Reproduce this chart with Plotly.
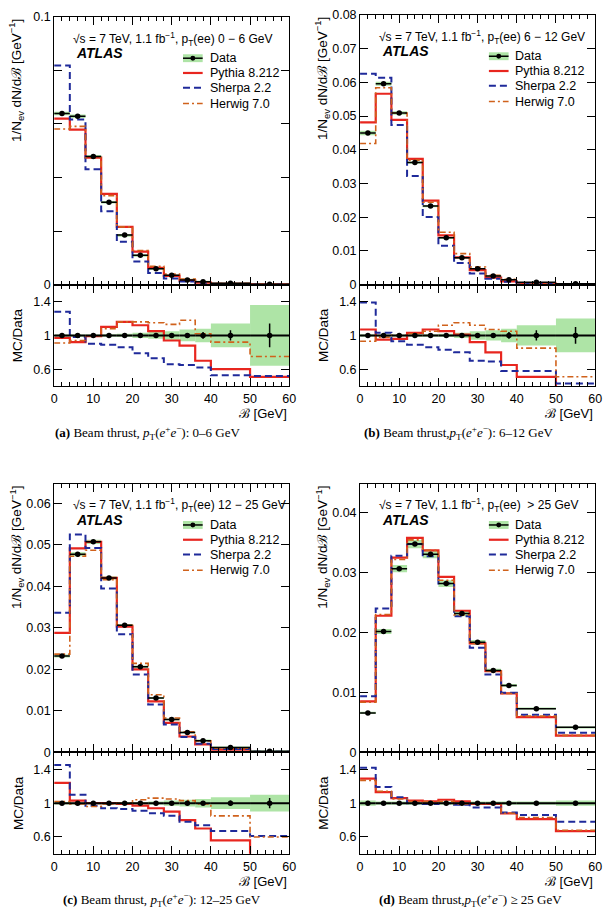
import plotly.graph_objects as go

W, H = 610, 917

# bin edges of beam thrust [GeV]
edges = [0, 4, 8, 12, 16, 20, 24, 28, 32, 36, 40, 50, 60]

# --- (a) pT(ee) 0-6 GeV ---
data_a = [0.0639, 0.0629, 0.0479, 0.0308, 0.0186, 0.0110, 0.0060, 0.0035, 0.0018, 0.0011, 0.0005, 0.0002]
stat_a = [0.003, 0.003, 0.003, 0.004, 0.005, 0.006, 0.008, 0.01, 0.02, 0.04, 0.06, 0.14]
syst_a = [0.01, 0.01, 0.01, 0.015, 0.02, 0.03, 0.04, 0.05, 0.07, 0.08, 0.14, 0.36]
pythia_a = [0.97, 0.92, 0.99, 1.10, 1.16, 1.12, 1.05, 0.94, 0.88, 0.70, 0.60, 0.51]
sherpa_a = [1.28, 0.98, 0.90, 0.89, 0.86, 0.79, 0.73, 0.66, 0.65, 0.62, 0.53, 0.52]
herwig_a = [0.91, 0.94, 0.99, 1.08, 1.16, 1.16, 1.15, 1.13, 1.18, 1.02, 0.92, 0.75]

# --- (b) pT(ee) 6-12 GeV ---
data_b = [0.0450, 0.0596, 0.0509, 0.0362, 0.0233, 0.0139, 0.0080, 0.0047, 0.0026, 0.0015, 0.0007, 0.0003]
stat_b = [0.003, 0.003, 0.003, 0.003, 0.004, 0.005, 0.007, 0.01, 0.015, 0.04, 0.06, 0.10]
syst_b = [0.015, 0.01, 0.01, 0.01, 0.015, 0.02, 0.03, 0.05, 0.06, 0.08, 0.12, 0.20]
pythia_b = [1.07, 0.95, 0.96, 1.03, 1.07, 1.05, 1.01, 0.92, 0.80, 0.65, 0.51, 0.35]
sherpa_b = [1.39, 1.03, 0.93, 0.89, 0.86, 0.83, 0.80, 0.70, 0.69, 0.58, 0.58, 0.43]
herwig_b = [0.93, 0.98, 1.00, 1.02, 1.05, 1.12, 1.15, 1.12, 1.07, 1.05, 0.85, 0.51]

# --- (c) pT(ee) 12-25 GeV ---
data_c = [0.0232, 0.0477, 0.0507, 0.0420, 0.0306, 0.0206, 0.0131, 0.0079, 0.0048, 0.0028, 0.0012, 0.0003]
stat_c = [0.003, 0.002, 0.002, 0.002, 0.003, 0.003, 0.004, 0.005, 0.008, 0.02, 0.03, 0.06]
syst_c = [0.015, 0.01, 0.01, 0.01, 0.01, 0.015, 0.02, 0.03, 0.04, 0.05, 0.07, 0.10]
pythia_c = [1.24, 1.03, 1.00, 1.00, 0.99, 0.97, 0.94, 0.90, 0.80, 0.70, 0.56, 0.35]
sherpa_c = [1.45, 1.10, 0.97, 0.94, 0.93, 0.91, 0.88, 0.85, 0.78, 0.74, 0.67, 0.61]
herwig_c = [1.02, 0.99, 0.96, 0.99, 1.00, 1.04, 1.06, 1.05, 1.03, 0.99, 0.85, 0.60]

# --- (d) pT(ee) > 25 GeV ---
data_d = [0.0066, 0.0202, 0.0307, 0.0348, 0.0331, 0.0282, 0.0232, 0.0184, 0.0137, 0.0112, 0.0073, 0.0042]
stat_d = [0.005, 0.003, 0.003, 0.003, 0.003, 0.003, 0.004, 0.004, 0.005, 0.006, 0.006, 0.008]
syst_d = [0.03, 0.02, 0.02, 0.02, 0.02, 0.02, 0.02, 0.02, 0.02, 0.02, 0.02, 0.03]
pythia_d = [1.29, 1.13, 1.06, 1.03, 1.02, 1.04, 1.02, 0.99, 0.99, 0.88, 0.81, 0.67]
sherpa_d = [1.42, 1.19, 1.07, 1.00, 0.99, 1.00, 0.98, 0.95, 0.95, 0.89, 0.86, 0.78]
herwig_d = [1.27, 1.14, 1.05, 1.02, 1.02, 1.02, 0.99, 0.99, 0.99, 0.88, 0.83, 0.68]

pt_labels = ["0 \u2212 6 GeV", "6 \u2212 12 GeV", "12 \u2212 25 GeV", "&nbsp;> 25 GeV"]
captions = [
    "<b>(a)</b> Beam thrust, <i>p</i><sub>T</sub>(<i>e</i><sup>+</sup><i>e</i><sup>\u2212</sup>): 0\u20136 GeV",
    "<b>(b)</b> Beam thrust,<i>p</i><sub>T</sub>(<i>e</i><sup>+</sup><i>e</i><sup>\u2212</sup>): 6\u201312 GeV",
    "<b>(c)</b> Beam thrust, <i>p</i><sub>T</sub>(<i>e</i><sup>+</sup><i>e</i><sup>\u2212</sup>): 12\u201325 GeV",
    "<b>(d)</b> Beam thrust,<i>p</i><sub>T</sub>(<i>e</i><sup>+</sup><i>e</i><sup>\u2212</sup>) \u2265 25 GeV",
]

SANS = "Liberation Sans, Arial, sans-serif"
SERIF = "Liberation Serif, Times New Roman, serif"
RED = "#e8261f"
BLUE = "#1f2a9a"
ORANGE = "#d0621c"
GREEN = "#aee4a6"

STYLES = [
    ("Pythia 8.212", RED, "solid", 2.2),
    ("Sherpa 2.2", BLUE, "7px,4px", 2.0),
    ("Herwig 7.0", ORANGE, "6px,3px,2px,3px", 1.6),
]

# panel geometry in pixels
panels = [
    dict(x0=52, top=10, mid=282, bot=385, ymax=0.1, cap_x=147, cap_y=433),
    dict(x0=363, top=8, mid=282, bot=385, ymax=0.08, cap_x=463, cap_y=433),
    dict(x0=52, top=484, mid=757, bot=860, ymax=0.0647, cap_x=162, cap_y=907),
    dict(x0=363, top=484, mid=757, bot=860, ymax=0.0449, cap_x=475, cap_y=907),
]
PW = 239

all_data = [
    (data_a, stat_a, syst_a, [pythia_a, sherpa_a, herwig_a]),
    (data_b, stat_b, syst_b, [pythia_b, sherpa_b, herwig_b]),
    (data_c, stat_c, syst_c, [pythia_c, sherpa_c, herwig_c]),
    (data_d, stat_d, syst_d, [pythia_d, sherpa_d, herwig_d]),
]


def fx(px):
    return px / W


def fy(py):
    return 1 - py / H


def text(x, y, s, size=12, family=SANS, xanchor="left", yanchor="middle", angle=0):
    return dict(x=fx(x), y=fy(y), xref="paper", yref="paper", xanchor=xanchor,
                yanchor=yanchor, textangle=angle, showarrow=False, text=s,
                font=dict(family=family, size=size, color="black"))


centers = [(a + b) / 2 for a, b in zip(edges[:-1], edges[1:])]
halfw = [(b - a) / 2 for a, b in zip(edges[:-1], edges[1:])]

fig = go.Figure()
shapes = []
annotations = []
axes = {}

for i, (p, (data, stat, syst, ratios)) in enumerate(zip(panels, all_data)):
    nm, nr = 2 * i + 1, 2 * i + 2
    xm, ym = f"x{nm}" if nm > 1 else "x", f"y{nm}" if nm > 1 else "y"
    xr, yr = f"x{nr}", f"y{nr}"
    x0, x1 = p["x0"], p["x0"] + PW

    common = dict(showline=True, linecolor="black", linewidth=1, mirror="ticks",
                  ticks="inside", tickcolor="black", showgrid=False, zeroline=False,
                  tickfont=dict(family=SANS, size=12.5, color="black"))
    xcommon = dict(common, range=[0, 60], tick0=0, dtick=10, ticklen=8,
                   minor=dict(ticks="inside", dtick=2, ticklen=4, tickcolor="black"))

    if i == 0:
        yvals = [0, 0.02, 0.04, 0.06, 0.08, 0.1]
        ytext = ["0", "", "", "", "", "0.1"]
    else:
        n = int(round(p["ymax"] // 0.01)) + 1
        yvals = [k * 0.01 for k in range(n)]
        ytext = ["0"] + [f"{v:.2f}" for v in yvals[1:]]

    axes[f"xaxis{nm}" if nm > 1 else "xaxis"] = dict(
        xcommon, domain=[fx(x0), fx(x1)], anchor=ym, showticklabels=False)
    axes[f"yaxis{nm}" if nm > 1 else "yaxis"] = dict(
        common, domain=[fy(p["mid"]), fy(p["top"])], anchor=xm, range=[0, p["ymax"]],
        tickvals=yvals, ticktext=ytext, ticklen=8)
    axes[f"xaxis{nr}"] = dict(
        xcommon, domain=[fx(x0), fx(x1)], anchor=yr, ticklabelstandoff=1)
    axes[f"yaxis{nr}"] = dict(
        common, domain=[fy(p["bot"]), fy(p["mid"])], anchor=xr, range=[0.4, 1.6],
        tickvals=[0.6, 1.0, 1.4], ticktext=["0.6", "1", "1.4"], ticklen=8)

    # uncertainty bands
    fig.add_trace(go.Bar(x=centers, y=[2 * d * s for d, s in zip(data, syst)],
                         base=[d * (1 - s) for d, s in zip(data, syst)],
                         width=[2 * h for h in halfw], marker=dict(color=GREEN, line_width=0),
                         xaxis=xm, yaxis=ym, showlegend=False))
    fig.add_trace(go.Bar(x=centers, y=[2 * s for s in syst], base=[1 - s for s in syst],
                         width=[2 * h for h in halfw], marker=dict(color=GREEN, line_width=0),
                         xaxis=xr, yaxis=yr, showlegend=False))

    # MC predictions (stored as MC/Data)
    for (name, color, dash, lw), r in zip(STYLES, ratios):
        mc = [d * v for d, v in zip(data, r)]
        fig.add_trace(go.Scatter(x=edges, y=mc + [mc[-1]], mode="lines", line_shape="hv",
                                 line=dict(color=color, dash=dash, width=lw),
                                 xaxis=xm, yaxis=ym, showlegend=False))
        fig.add_trace(go.Scatter(x=edges, y=r + [r[-1]], mode="lines", line_shape="hv",
                                 line=dict(color=color, dash=dash, width=lw),
                                 xaxis=xr, yaxis=yr, showlegend=False))

    # data
    fig.add_trace(go.Scatter(x=centers, y=data, mode="markers",
                             marker=dict(color="black", size=5.5),
                             error_x=dict(type="data", array=halfw, width=0, thickness=1.5, color="black"),
                             error_y=dict(type="data", array=[d * s for d, s in zip(data, stat)],
                                          width=0, thickness=1.5, color="black"),
                             xaxis=xm, yaxis=ym, showlegend=False))
    fig.add_trace(go.Scatter(x=centers, y=[d / d for d in data], mode="markers",
                             marker=dict(color="black", size=5.5),
                             error_x=dict(type="data", array=halfw, width=0, thickness=2, color="black"),
                             error_y=dict(type="data", array=stat, width=0, thickness=1.5, color="black"),
                             xaxis=xr, yaxis=yr, showlegend=False))

    # texts
    top = p["top"]
    annotations.append(text(
        x0 + 17, top + 22,
        f"\u221As = 7 TeV, 1.1 fb<sup>\u22121</sup>, p<sub>T</sub>(ee) {pt_labels[i]}", size=12))
    annotations.append(text(x0 + 20, top + 37, "<b><i>ATLAS</i></b>", size=14))

    # legend
    lx0, lx1 = x0 + 131, x0 + 151
    rows = [top + 42, top + 57, top + 72, top + 88]
    shapes.append(dict(type="rect", xref="paper", yref="paper", x0=fx(lx0), x1=fx(lx1),
                       y0=fy(rows[0] + 4), y1=fy(rows[0] - 4), fillcolor=GREEN, line_width=0))
    shapes.append(dict(type="line", xref="paper", yref="paper", x0=fx(lx0), x1=fx(lx1),
                       y0=fy(rows[0]), y1=fy(rows[0]), line=dict(color="black", width=1.5)))
    shapes.append(dict(type="circle", xref="paper", yref="paper", x0=fx(lx0 + 7.5), x1=fx(lx0 + 12.5),
                       y0=fy(rows[0] + 2.5), y1=fy(rows[0] - 2.5), fillcolor="black", line_width=0))
    annotations.append(text(lx1 + 5, rows[0], "Data", size=12.5))
    for (name, color, dash, lw), ry in zip(STYLES, rows[1:]):
        shapes.append(dict(type="line", xref="paper", yref="paper", x0=fx(lx0), x1=fx(lx1),
                           y0=fy(ry), y1=fy(ry), line=dict(color=color, width=lw, dash=dash)))
        annotations.append(text(lx1 + 5, ry, name, size=12.5))

    # axis titles
    annotations.append(text(x0 - 38, top, "1/N<sub>ev</sub> dN/d\u212C [GeV<sup>\u22121</sup>]",
                            size=13.5, xanchor="center", yanchor="top", angle=-90))
    annotations.append(text(x0 - 37, (p["mid"] + p["bot"]) / 2, "MC/Data",
                            size=13.5, xanchor="center", angle=-90))
    annotations.append(text(x1, p["bot"] + 18, "\u212C [GeV]", size=13,
                            xanchor="right", yanchor="top"))
    annotations.append(text(p["cap_x"], p["cap_y"], captions[i], size=13,
                            family=SERIF, xanchor="center"))

fig.update_layout(
    width=W, height=H, margin=dict(l=0, r=0, t=0, b=0),
    paper_bgcolor="white", plot_bgcolor="white", barmode="overlay",
    showlegend=False, shapes=shapes, annotations=annotations, **axes)

fig.write_html("out.html", config={"displayModeBar": False},
               post_script="document.body.style.margin = '0';")
